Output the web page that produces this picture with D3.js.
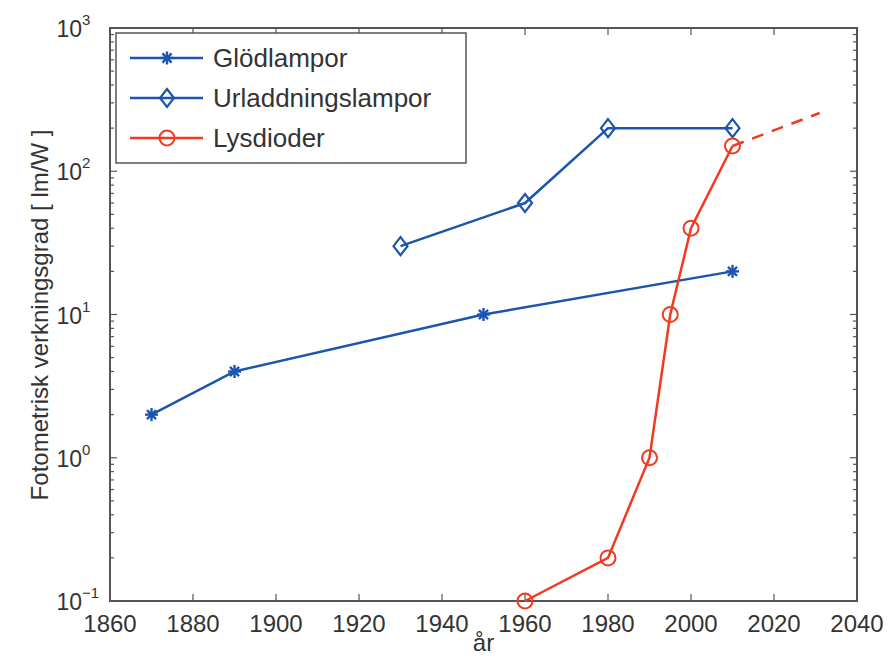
<!DOCTYPE html>
<html>
  <head>
    <meta http-equiv="Content-Type" content="text/html; charset=UTF-8">
    <script src="https://d3js.org/d3.v7.min.js"></script>
    <style>
      body { margin: 0; background: #fff; }
      text { font-family: "Liberation Sans", Arial, sans-serif; fill: #333; }
    </style>
  </head>
  <body>
    <div id="chart"></div>
    <script>
      // data
      var glodYears = [1870, 1890, 1950, 2010];
      var glodValues = [2, 4, 10, 20];
      var urlYears = [1930, 1960, 1980, 2010];
      var urlValues = [30, 60, 200, 200];
      var ledYears = [1960, 1980, 1990, 1995, 2000, 2010];
      var ledValues = [0.1, 0.2, 1, 10, 40, 150];
      var ledTrendYears = [2010, 2031];
      var ledTrendValues = [150, 255];
      var xTicks = [1860, 1880, 1900, 1920, 1940, 1960, 1980, 2000, 2020, 2040];
      var yExponents = [-1, 0, 1, 2, 3];
      var legendNames = ["Glödlampor", "Urladdningslampor", "Lysdioder"];

      var W = 890, H = 657;
      var m = {left: 110, right: 33, top: 28, bottom: 56};
      var blue = "#1b55ad", red = "#f23a22", axisCol = "#555";

      var svg = d3.select("#chart").append("svg").attr("width", W).attr("height", H);

      var x = d3.scaleLinear().domain([1860, 2040]).range([m.left, W - m.right]);
      var y = d3.scaleLog().domain([0.1, 1000]).range([H - m.bottom, m.top]);

      var zip = function(xs, ys) { return xs.map(function(d, i) { return [d, ys[i]]; }); };
      var line = d3.line().x(function(d) { return x(d[0]); }).y(function(d) { return y(d[1]); });

      // minor log ticks, both sides, pointing in
      var minors = [];
      yExponents.slice(0, -1).forEach(function(e) {
        for (var k = 2; k <= 9; k++) minors.push(k * Math.pow(10, e));
      });
      var ticksG = svg.append("g").attr("stroke", axisCol).attr("stroke-width", 1.2);
      minors.forEach(function(v) {
        ticksG.append("line").attr("x1", x(1860)).attr("x2", x(1860) + 4).attr("y1", y(v)).attr("y2", y(v));
        ticksG.append("line").attr("x1", x(2040)).attr("x2", x(2040) - 4).attr("y1", y(v)).attr("y2", y(v));
      });
      yExponents.forEach(function(e) {
        var v = Math.pow(10, e);
        ticksG.append("line").attr("x1", x(1860)).attr("x2", x(1860) + 7).attr("y1", y(v)).attr("y2", y(v));
        ticksG.append("line").attr("x1", x(2040)).attr("x2", x(2040) - 7).attr("y1", y(v)).attr("y2", y(v));
      });
      xTicks.forEach(function(t) {
        ticksG.append("line").attr("x1", x(t)).attr("x2", x(t)).attr("y1", y(0.1)).attr("y2", y(0.1) - 7);
        ticksG.append("line").attr("x1", x(t)).attr("x2", x(t)).attr("y1", y(1000)).attr("y2", y(1000) + 7);
      });

      // frame
      svg.append("rect")
        .attr("x", x(1860)).attr("y", y(1000))
        .attr("width", x(2040) - x(1860)).attr("height", y(0.1) - y(1000))
        .attr("fill", "none").attr("stroke", axisCol).attr("stroke-width", 2);

      // tick labels
      svg.append("g").selectAll("text").data(xTicks).join("text")
        .attr("x", function(d) { return x(d); }).attr("y", y(0.1) + 31)
        .attr("text-anchor", "middle").attr("font-size", 24).text(function(d) { return d; });

      var yl = svg.append("g").selectAll("text").data(yExponents).join("text")
        .attr("x", x(1860) - 20).attr("y", function(d) { return y(Math.pow(10, d)) + 9; })
        .attr("text-anchor", "end").attr("font-size", 23);
      yl.append("tspan").text("10");
      yl.append("tspan").attr("dy", -12).attr("font-size", 15)
        .text(function(d) { return String(d).replace("-", "\u2212"); });
      // keep "10" aligned by anchoring on its right edge
      yl.each(function(d) {
        var t = d3.select(this), sup = t.select("tspan:nth-child(2)");
        var w = sup.node().getComputedTextLength();
        t.attr("x", x(1860) - 28 + w);
      });

      // axis titles
      svg.append("text").attr("x", x(1950)).attr("y", 651).attr("text-anchor", "middle")
        .attr("font-size", 24).text("år");
      svg.append("text").attr("transform", "translate(48,315) rotate(-90)")
        .attr("text-anchor", "middle").attr("font-size", 24).text("Fotometrisk verkningsgrad [ lm/W ]");

      // markers
      function star(g, cx, cy, col) {
        var r = 6.5;
        [[0, 1], [1, 0], [0.7, 0.7], [0.7, -0.7]].forEach(function(a) {
          g.append("line").attr("x1", cx - r * a[0]).attr("y1", cy - r * a[1])
            .attr("x2", cx + r * a[0]).attr("y2", cy + r * a[1])
            .attr("stroke", col).attr("stroke-width", 2.4);
        });
      }
      function diamond(g, cx, cy, col) {
        g.append("path").attr("d", "M" + cx + "," + (cy - 9) + "L" + (cx + 7) + "," + cy + "L" + cx + "," + (cy + 9) + "L" + (cx - 7) + "," + cy + "Z")
          .attr("fill", "none").attr("stroke", col).attr("stroke-width", 2.2);
      }
      function circle(g, cx, cy, col) {
        g.append("circle").attr("cx", cx).attr("cy", cy).attr("r", 7.5)
          .attr("fill", "none").attr("stroke", col).attr("stroke-width", 2);
      }

      var plot = svg.append("g");
      var series = [
        {pts: zip(glodYears, glodValues), col: blue, mk: star},
        {pts: zip(urlYears, urlValues), col: blue, mk: diamond},
        {pts: zip(ledYears, ledValues), col: red, mk: circle}
      ];
      plot.append("path").datum(zip(ledTrendYears, ledTrendValues)).attr("d", line)
        .attr("fill", "none").attr("stroke", red).attr("stroke-width", 2.5).attr("stroke-dasharray", "12,9");
      series.forEach(function(s) {
        plot.append("path").datum(s.pts).attr("d", line)
          .attr("fill", "none").attr("stroke", s.col).attr("stroke-width", 2.5);
        s.pts.forEach(function(p) { s.mk(plot, x(p[0]), y(p[1]), s.col); });
      });

      // legend
      var lg = svg.append("g");
      lg.append("rect").attr("x", 116).attr("y", 33).attr("width", 350).attr("height", 130)
        .attr("fill", "#fff").attr("stroke", axisCol).attr("stroke-width", 1.5);
      series.forEach(function(s, i) {
        var ly = 58 + i * 40;
        lg.append("line").attr("x1", 130).attr("x2", 203).attr("y1", ly).attr("y2", ly)
          .attr("stroke", s.col).attr("stroke-width", 2.5);
        s.mk(lg, 167, ly, s.col);
        lg.append("text").attr("x", 213).attr("y", ly + 9).attr("font-size", 26).text(legendNames[i]);
      });
    </script>
  </body>
</html>
